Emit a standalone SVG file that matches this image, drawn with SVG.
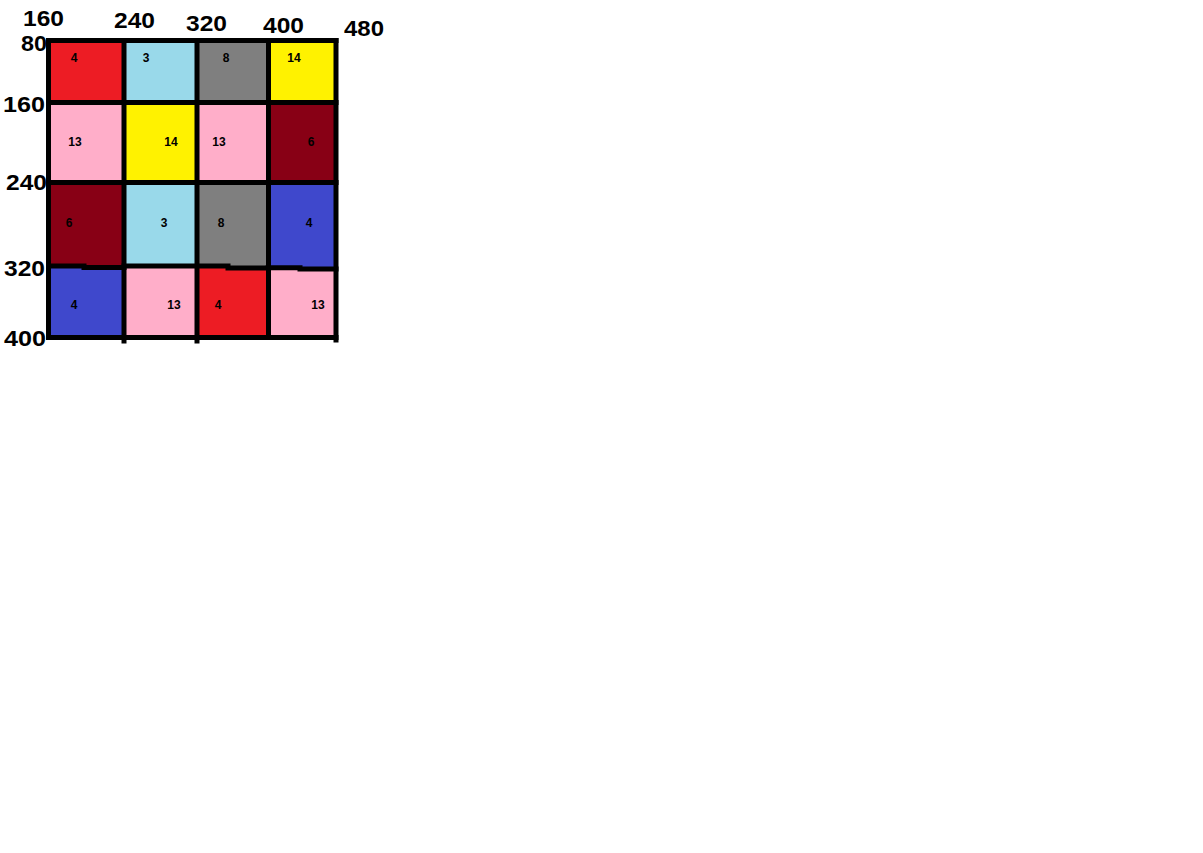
<svg xmlns="http://www.w3.org/2000/svg" width="1203" height="853" viewBox="0 0 1203 853">
<style>
.axis{font-family:"Liberation Sans",Arial,sans-serif;font-weight:bold;font-size:22px;fill:#000}
.num{font-family:"Liberation Sans",Arial,sans-serif;font-weight:bold;font-size:12px;fill:#000;text-anchor:middle}
.red{fill:#ED1C24}.lb{fill:#99D9EA}.gr{fill:#7F7F7F}.ye{fill:#FFF200}.pk{fill:#FFAEC9}.dr{fill:#880015}.bl{fill:#3F48CC}
.ln{stroke:#000;stroke-width:5;fill:none;stroke-linecap:square}
</style>
<rect width="1203" height="853" fill="#fff"/>
<g id="axis-labels">
<text class="axis" x="23" y="26" textLength="41" lengthAdjust="spacingAndGlyphs">160</text>
<text class="axis" x="114" y="28" textLength="41" lengthAdjust="spacingAndGlyphs">240</text>
<text class="axis" x="186" y="31" textLength="41" lengthAdjust="spacingAndGlyphs">320</text>
<text class="axis" x="263" y="33" textLength="41" lengthAdjust="spacingAndGlyphs">400</text>
<text class="axis" x="344" y="36" textLength="40" lengthAdjust="spacingAndGlyphs">480</text>
<text class="axis" x="21" y="51" textLength="26" lengthAdjust="spacingAndGlyphs">80</text>
<text class="axis" x="3" y="112" textLength="42" lengthAdjust="spacingAndGlyphs">160</text>
<text class="axis" x="6" y="190" textLength="41" lengthAdjust="spacingAndGlyphs">240</text>
<text class="axis" x="4" y="276" textLength="41" lengthAdjust="spacingAndGlyphs">320</text>
<text class="axis" x="4" y="346" textLength="42" lengthAdjust="spacingAndGlyphs">400</text>
</g>
<g id="row1">
<g id="c1-1"><rect class="red" x="48" y="40" width="76" height="62"/><text class="num" x="74" y="62">4</text></g>
<g id="c1-2"><rect class="lb" x="124" y="40" width="73" height="62"/><text class="num" x="146" y="62">3</text></g>
<g id="c1-3"><rect class="gr" x="197" y="40" width="72" height="62"/><text class="num" x="226" y="62">8</text></g>
<g id="c1-4"><rect class="ye" x="269" y="40" width="67" height="62"/><text class="num" x="294" y="62">14</text></g>
</g>
<g id="row2">
<g id="c2-1"><rect class="pk" x="48" y="102" width="76" height="80"/><text class="num" x="75" y="146">13</text></g>
<g id="c2-2"><rect class="ye" x="124" y="102" width="73" height="80"/><text class="num" x="171" y="146">14</text></g>
<g id="c2-3"><rect class="pk" x="197" y="102" width="72" height="80"/><text class="num" x="219" y="146">13</text></g>
<g id="c2-4"><rect class="dr" x="269" y="102" width="67" height="80"/><text class="num" x="311" y="146">6</text></g>
</g>
<g id="row3">
<g id="c3-1"><rect class="dr" x="48" y="182" width="76" height="85"/><text class="num" x="69" y="227">6</text></g>
<g id="c3-2"><rect class="lb" x="124" y="182" width="73" height="85"/><text class="num" x="164" y="227">3</text></g>
<g id="c3-3"><rect class="gr" x="197" y="182" width="72" height="85"/><text class="num" x="221" y="227">8</text></g>
<g id="c3-4"><rect class="bl" x="269" y="182" width="67" height="85"/><text class="num" x="309" y="227">4</text></g>
</g>
<g id="row4">
<g id="c4-1"><rect class="bl" x="48" y="267" width="76" height="71"/><text class="num" x="74" y="309">4</text></g>
<g id="c4-2"><rect class="pk" x="124" y="267" width="73" height="71"/><text class="num" x="174" y="309">13</text></g>
<g id="c4-3"><rect class="red" x="197" y="267" width="72" height="71"/><text class="num" x="218" y="309">4</text></g>
<g id="c4-4"><rect class="pk" x="269" y="267" width="67" height="71"/><text class="num" x="318" y="309">13</text></g>
</g>
<g id="grid-lines">
<line class="ln" x1="48.5" y1="40.5" x2="336" y2="40.5"/>
<line class="ln" x1="48.5" y1="102.5" x2="336" y2="102.5"/>
<line class="ln" x1="48.5" y1="182.5" x2="336" y2="182.5"/>
<polyline class="ln" stroke-linecap="butt" points="48.5,266 84,266 84,267.5 124,267.5 124,266 228,266 228,268 268,268 268,267.7 300,267.7 300,269 336,269"/>
<line class="ln" x1="48.5" y1="337.5" x2="336" y2="337.5"/>
<line class="ln" x1="48.5" y1="40.5" x2="48.5" y2="337.5"/>
<line class="ln" x1="124" y1="40.5" x2="124" y2="341"/>
<line class="ln" x1="197" y1="40.5" x2="197" y2="341"/>
<line class="ln" x1="268.5" y1="40.5" x2="268.5" y2="337.5"/>
<line class="ln" x1="336" y1="40.5" x2="336" y2="340"/>
</g>
</svg>
